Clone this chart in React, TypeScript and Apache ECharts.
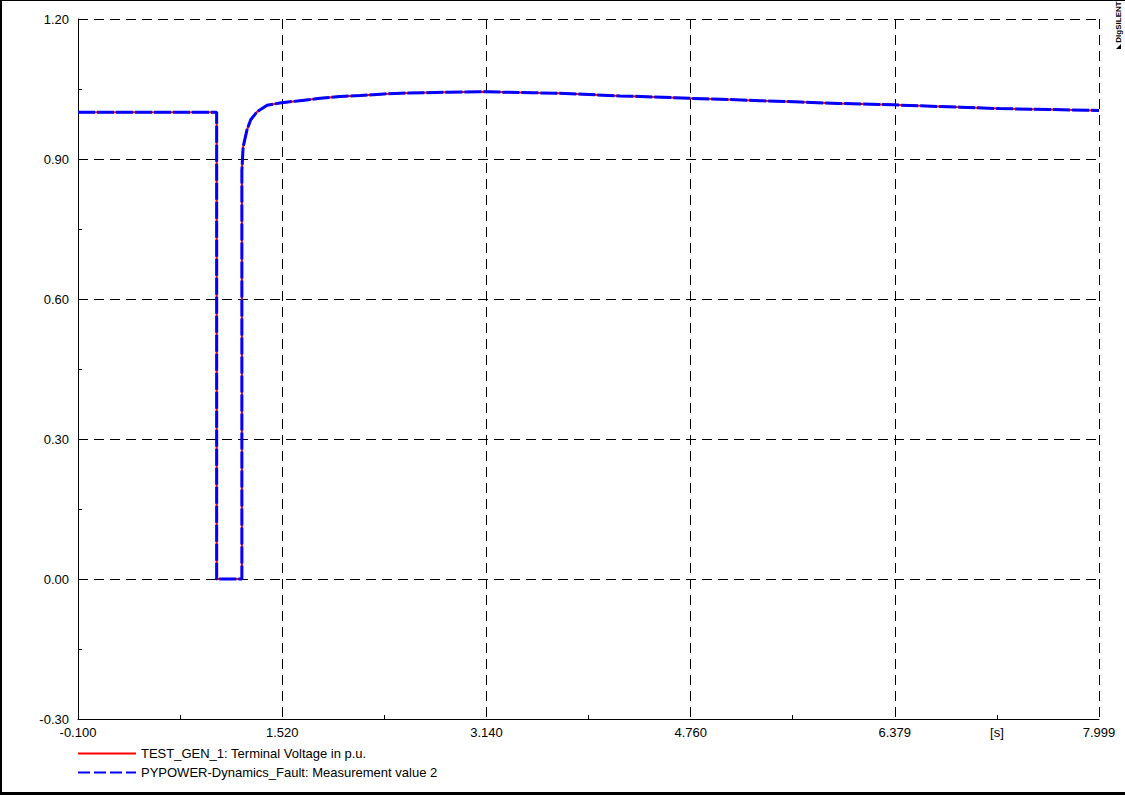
import React, { useEffect, useRef } from "react";
import * as echarts from "echarts";

// ---- data ----
const time = [-0.1, 1.0, 1.0, 1.2, 1.2, 1.21, 1.24, 1.27, 1.32, 1.4, 1.5, 1.66, 1.82, 1.98, 2.14, 2.3, 2.46, 2.8, 3.14, 3.5, 3.72, 4.2, 4.36, 4.76, 5.0, 5.31, 5.63, 5.94, 6.36, 6.9, 7.21, 7.61, 7.999];
const terminalVoltage = [1.0, 1.0, 0.0, 0.0, 0.876, 0.926, 0.962, 0.984, 1.001, 1.015, 1.02, 1.025, 1.03, 1.034, 1.036, 1.039, 1.041, 1.043, 1.044, 1.042, 1.041, 1.035, 1.034, 1.03, 1.028, 1.025, 1.022, 1.019, 1.016, 1.011, 1.008, 1.006, 1.004];
const measurementValue2 = [1.0, 1.0, 0.0, 0.0, 0.876, 0.926, 0.962, 0.984, 1.001, 1.015, 1.02, 1.025, 1.03, 1.034, 1.036, 1.039, 1.041, 1.043, 1.044, 1.042, 1.041, 1.035, 1.034, 1.03, 1.028, 1.025, 1.022, 1.019, 1.016, 1.011, 1.008, 1.006, 1.004];

const seriesNames = [
  "TEST_GEN_1: Terminal Voltage in p.u.",
  "PYPOWER-Dynamics_Fault: Measurement value 2",
];

const xTickValues = [-0.1, 1.52, 3.14, 4.76, 6.379, 7.999];
const xTickLabels = ["-0.100", "1.520", "3.140", "4.760", "6.379", "7.999"];
const xMinorTicks = [0.71, 2.33, 3.95, 5.5695, 7.189];
const xUnitValue = 7.189;
const xUnitLabel = "[s]";

const yMin = -0.3;
const yMax = 1.2;
const yInterval = 0.3;

const FONT = "'Liberation Sans', Arial, sans-serif";

export default function App() {
  const ref = useRef<HTMLDivElement>(null);

  useEffect(() => {
    if (!ref.current) return;
    const chart = echarts.init(ref.current, undefined, { renderer: "svg" });

    const pairs = (vals: number[]) => time.map((t, i) => [t, vals[i]]);
    const dash = [10, 6];

    const option: any = {
      animation: false,
      backgroundColor: "#ffffff",
      textStyle: { fontFamily: FONT },
      grid: {
        left: 78,
        right: 26,
        top: 19,
        bottom: 76,
        containLabel: false,
        outerBoundsMode: "none",
      },
      legend: {
        orient: "vertical",
        left: 77,
        bottom: 16,
        padding: 0,
        itemWidth: 58,
        itemHeight: 14,
        itemGap: 6,
        itemStyle: { opacity: 0 },
        textStyle: { fontSize: 13, color: "#000", fontFamily: FONT },
        data: [
          { name: seriesNames[0], itemStyle: { opacity: 0 }, lineStyle: { color: "#ff0000", width: 2, type: "solid" } },
          { name: seriesNames[1], itemStyle: { opacity: 0 }, lineStyle: { color: "#0000ff", width: 2, type: [12, 4] } },
        ],
      },
      xAxis: [
        {
          type: "value",
          min: -0.1,
          max: 7.999,
          position: "bottom",
          axisLine: { show: true, onZero: false, lineStyle: { color: "#000", width: 1 } },
          axisTick: {
            show: true,
            inside: true,
            length: 4,
            customValues: xMinorTicks,
            lineStyle: { color: "#000" },
          },
          axisLabel: {
            show: true,
            margin: 7,
            fontSize: 13,
            color: "#000",
            fontFamily: FONT,
            customValues: [...xTickValues, xUnitValue],
            formatter: (v: number) => {
              if (Math.abs(v - xUnitValue) < 1e-6) return xUnitLabel;
              let best = 0;
              for (let i = 1; i < xTickValues.length; i++) {
                if (Math.abs(xTickValues[i] - v) < Math.abs(xTickValues[best] - v)) best = i;
              }
              return xTickLabels[best];
            },
          },
          splitLine: { show: false },
        },
        {
          type: "value",
          min: -0.1,
          max: 7.999,
          position: "bottom",
          axisLine: { show: false },
          axisTick: { show: false, customValues: xTickValues.slice(1) },
          axisLabel: { show: false },
          splitLine: { show: true, lineStyle: { color: "#000", width: 1, type: dash } },
        },
      ],
      yAxis: {
        type: "value",
        min: yMin,
        max: yMax,
        interval: yInterval,
        axisLine: { show: true, onZero: false, lineStyle: { color: "#000", width: 1 } },
        axisTick: { show: false, inside: true },
        minorTick: { show: true, splitNumber: 2, length: 4, lineStyle: { color: "#000" } },
        axisLabel: {
          margin: 9,
          fontSize: 13,
          color: "#000",
          fontFamily: FONT,
          formatter: (v: number) => v.toFixed(2),
        },
        splitLine: { show: true, lineStyle: { color: "#000", width: 1, type: dash } },
      },
      series: [
        {
          name: seriesNames[0],
          type: "line",
          xAxisIndex: 0,
          symbol: "none",
          data: pairs(terminalVoltage),
          lineStyle: { color: "#ff0000", width: 2 },
          itemStyle: { color: "#ff0000" },
          z: 3,
        },
        {
          name: seriesNames[1],
          type: "line",
          xAxisIndex: 0,
          symbol: "none",
          data: pairs(measurementValue2),
          lineStyle: { color: "#0000ff", width: 3, type: [17, 2] },
          itemStyle: { color: "#0000ff" },
          z: 4,
        },
      ],
      graphic: [
        { type: "line", shape: { x1: 0, y1: 0.5, x2: 1125, y2: 0.5 }, style: { stroke: "#000", lineWidth: 1 }, silent: true },
        { type: "line", shape: { x1: 1, y1: 0, x2: 1, y2: 795 }, style: { stroke: "#000", lineWidth: 2 }, silent: true },
        { type: "line", shape: { x1: 0, y1: 793.5, x2: 1125, y2: 793.5 }, style: { stroke: "#000", lineWidth: 3 }, silent: true },
        {
          type: "text",
          x: 1118,
          y: 22,
          rotation: Math.PI / 2,
          style: {
            text: "DIgSILENT",
            fontSize: 8,
            fontWeight: "bold",
            fontFamily: FONT,
            fill: "#000",
            align: "center",
            verticalAlign: "middle",
          },
          silent: true,
        },
        {
          type: "polygon",
          shape: { points: [[1116, 49], [1121, 44], [1121, 49]] },
          style: { fill: "#000" },
          silent: true,
        },
      ],
    };

    chart.setOption(option);
    return () => chart.dispose();
  }, []);

  return (
    <div
      ref={ref}
      style={{ position: "absolute", left: 0, top: 0, width: 1125, height: 795 }}
    />
  );
}
